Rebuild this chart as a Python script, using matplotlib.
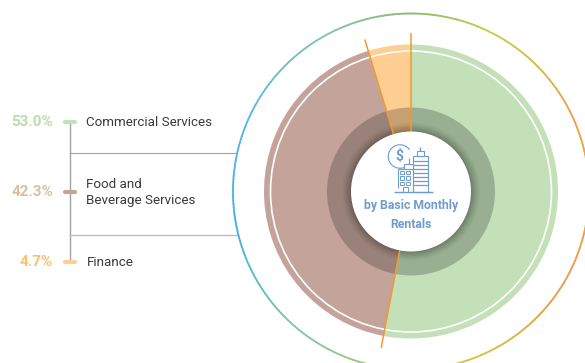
import numpy as np
import matplotlib
matplotlib.use("Agg")
import matplotlib.pyplot as plt
from matplotlib.patches import Wedge, Circle, Rectangle, Arc
from matplotlib.collections import LineCollection
from matplotlib.colors import LinearSegmentedColormap

# data
categories = ["Commercial Services", "Food and\nBeverage Services", "Finance"]
shares = [53.0, 42.3, 4.7]
share_labels = ["53.0%", "42.3%", "4.7%"]
slice_colors = ["#C3E0B8", "#C4A49A", "#FFCE92"]
value_colors = ["#BADDA9", "#D9BF9E", "#FDBE74"]
legend_y = [122, 192, 262]
center_title = "by Basic Monthly\nRentals"

plt.rcParams['font.family'] = ['Roboto', 'DejaVu Sans']

fig = plt.figure(figsize=(5.85, 3.63), dpi=100)
ax = fig.add_axes([0, 0, 1, 1])
ax.set_xlim(0, 585)
ax.set_ylim(363, 0)   # y runs down, so wedge angles run clockwise
ax.axis("off")

cx, cy = 411, 191.5
blue = "#6F9BD1"
orange = "#F29A2E"
grey = "#A3A1A3"

# outer thin ring with colour running round it
ring_cmap = LinearSegmentedColormap.from_list("ring", [
    (0.00, "#8DBB6E"), (0.07, "#C6CF4C"), (0.17, "#E8A44E"), (0.36, "#E8A050"),
    (0.45, "#D2C845"), (0.52, "#A8C870"), (0.61, "#84C6AC"), (0.72, "#3FB4E4"),
    (0.82, "#58BAE4"), (0.92, "#84C6AC"), (1.00, "#8DBB6E")])
t = np.linspace(0, 1, 361)
ang = np.radians(-90 + 360 * t)
pts = np.column_stack([cx + 178 * np.cos(ang), cy + 178 * np.sin(ang)])
segs = np.stack([pts[:-1], pts[1:]], axis=1)
ax.add_collection(LineCollection(segs, colors=ring_cmap(t[:-1]), linewidths=1.3, capstyle="round"))

# slices, starting at 12 o'clock
start = -90
edges = []
for share, col in zip(shares, slice_colors):
    sweep = share * 3.6
    ax.add_patch(Wedge((cx, cy), 147, start, start + sweep, fc=col, ec="none"))
    start += sweep
    edges.append(start)

ax.add_patch(Circle((cx, cy), 140.5, fc="none", ec="white", lw=1.2))

# dark band, getting darker towards the middle
ax.add_patch(Circle((cx, cy), 84, fc="#1E1E1E", alpha=0.25, ec="none"))
for r, a in zip(np.linspace(69, 60, 9), np.linspace(0.02, 0.05, 9)):
    ax.add_patch(Circle((cx, cy), r, fc="black", alpha=a, ec="none"))

# orange dividers
for e in edges:
    a = np.radians(e)
    ax.plot([cx + 60 * np.cos(a), cx + 159 * np.cos(a)],
            [cy + 60 * np.sin(a), cy + 159 * np.sin(a)], color=orange, lw=1.1, solid_capstyle="butt")

ax.add_patch(Circle((cx, cy), 60, fc="white", ec="none", zorder=5))

# icon
def icon_line(xs, ys, lw=0.8):
    ax.plot(xs, ys, color=blue, lw=lw, zorder=6, solid_capstyle="butt")

ax.add_patch(Arc((400, 156.5), 23.5, 23.5, theta1=45, theta2=325, ec=blue, lw=0.8, zorder=6))
ax.text(399.5, 156.5, "$", color=blue, fontsize=10, fontweight="bold", ha="center", va="center", zorder=6)
ax.add_patch(Rectangle((413, 156), 14.5, 36, fc="white", ec=blue, lw=0.8, zorder=6))
for yy in np.arange(161, 189, 4):
    icon_line([413, 427.5], [yy, yy], lw=0.9)
ax.add_patch(Rectangle((416.5, 151), 7, 5, fc="white", ec=blue, lw=0.8, zorder=6))
icon_line([419.8, 419.8], [146.5, 151], lw=1.0)
ax.add_patch(Rectangle((404, 163.5), 8.5, 5, fc="white", ec=blue, lw=0.8, zorder=6))
icon_line([408.5, 408.5], [158, 163.5], lw=0.8)
icon_line([397.5, 397.5], [169, 188])
icon_line([397.5, 412.5], [168.5, 168.5])
for col_x in [399.8, 406]:
    for row_y in [170.5, 176, 181.5]:
        ax.add_patch(Rectangle((col_x, row_y), 4.4, 3.6, fc="none", ec=blue, lw=0.7, zorder=6))
ax.add_patch(Rectangle((403, 187), 4.5, 5, fc="none", ec=blue, lw=0.7, zorder=6))
icon_line([394, 433], [192, 192], lw=1.0)

ax.text(411, 215, center_title, color=blue, fontsize=8.8, fontweight="bold",
        ha="center", va="center", linespacing=1.55, zorder=6)

# legend
ax.plot([69.5, 69.5], [legend_y[0], legend_y[-1]], color=grey, lw=1.0, zorder=1)
ax.plot([69.5, 236], [152.5, 152.5], color=grey, lw=0.8, zorder=1)
ax.plot([69.5, 238], [234.5, 234.5], color="#BDBBBD", lw=1.0, zorder=1)
for lab, val, col, vcol, y in zip(categories, share_labels, slice_colors, value_colors, legend_y):
    ax.plot([65, 74.5], [y, y], color=col, lw=3.0, solid_capstyle="round", zorder=2)
    ax.text(53, y + 0.5, val, color=vcol, fontsize=11, fontweight="bold", ha="right", va="center")
    ax.text(86.5, y + 0.3, lab, color="#3A3A3A", fontsize=9.6, ha="left", va="center", linespacing=1.3)

fig.savefig("out.png", dpi=100)
